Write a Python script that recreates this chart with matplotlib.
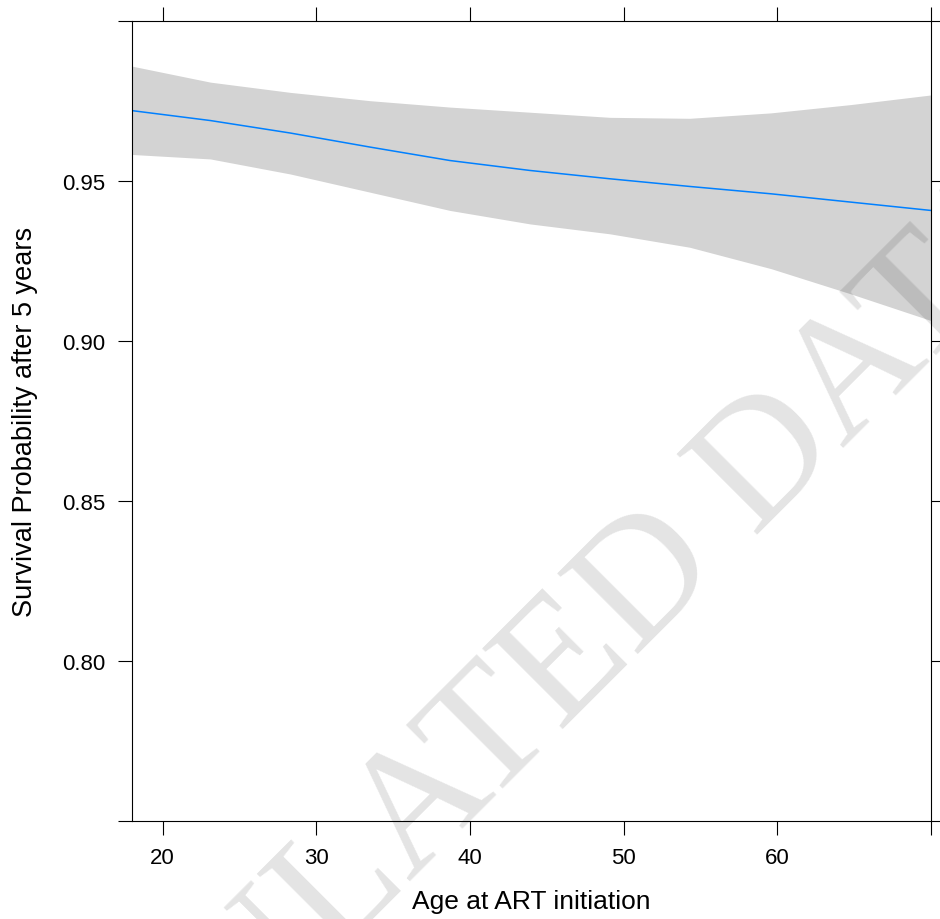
import matplotlib.pyplot as plt

# fitted survival at 5 years vs age at ART start, with confidence band
age = [18.0, 23.1, 28.3, 33.5, 38.7, 43.9, 49.1, 54.3, 59.6, 64.8, 70.0]
fit = [0.9719, 0.9688, 0.9649, 0.9605, 0.9563, 0.9532, 0.9506, 0.9482, 0.9459, 0.9433, 0.9407]
upper = [0.9858, 0.9808, 0.9776, 0.9750, 0.9730, 0.9714, 0.9698, 0.9695, 0.9712, 0.9738, 0.9768]
lower = [0.9582, 0.9568, 0.9521, 0.9464, 0.9407, 0.9365, 0.9334, 0.9292, 0.9225, 0.9146, 0.9063]

x_ticks = [20, 30, 40, 50, 60, 70]
x_labels = ['20', '30', '40', '50', '60', '']
y_ticks = [0.75, 0.80, 0.85, 0.90, 0.95, 1.00]
y_labels = ['', '0.80', '0.85', '0.90', '0.95', '']


def main():
    plt.rcParams['font.family'] = ['Liberation Sans', 'DejaVu Sans']
    fig = plt.figure(figsize=(9.4, 9.2), dpi=100)
    ax = fig.add_axes([132 / 940, 1 - 821.7 / 920, 799 / 940, 800 / 920])

    ax.fill_between(age, lower, upper, color='#d3d3d3', linewidth=0)
    ax.plot(age, fit, color='#0080ff', linewidth=1.1)

    ax.set_xlim(18, 70)
    ax.set_ylim(0.75, 1.0)
    ax.set_xticks(x_ticks)
    ax.set_xticklabels(x_labels)
    ax.set_yticks(y_ticks)
    ax.set_yticklabels(y_labels)
    ax.tick_params(direction='out', length=10, width=0.8, labelsize=16,
                   top=True, right=True, labeltop=False, labelright=False)
    ax.tick_params(axis='x', pad=9)
    ax.tick_params(axis='y', pad=9)
    for s in ax.spines.values():
        s.set_linewidth(0.8)

    fig.text(531 / 940, 1 - 902 / 920, 'Age at ART initiation',
             ha='center', va='center', fontsize=19)
    fig.text(25 / 940, 1 - 422 / 920, 'Survival Probability after 5 years',
             ha='center', va='center', rotation=90, fontsize=19.5)

    # watermark
    fig.text(550 / 940, 1 - 742 / 920, 'SIMULATED DATA', family='Liberation Serif',
             fontsize=125, color='black', alpha=0.11, rotation=45,
             rotation_mode='anchor', ha='center', va='baseline')

    fig.savefig('out.png', dpi=100)


if __name__ == '__main__':
    main()
